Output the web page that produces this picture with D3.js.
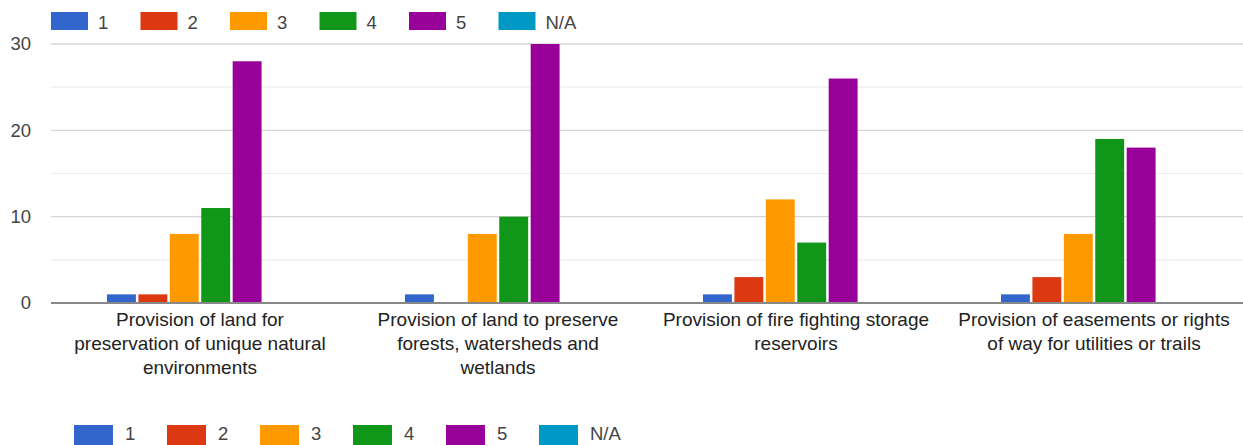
<!DOCTYPE html>
<html>
<head>
<meta charset="utf-8">
<script src="https://cdn.jsdelivr.net/npm/d3@7"></script>
<style>
  body { margin: 0; background: #fff; }
  svg { display: block; font-family: "Liberation Sans", Arial, sans-serif; }
</style>
</head>
<body>
<script>
// data
var categories = [
  ["Provision of land for", "preservation of unique natural", "environments"],
  ["Provision of land to preserve", "forests, watersheds and", "wetlands"],
  ["Provision of fire fighting storage", "reservoirs"],
  ["Provision of easements or rights", "of way for utilities or trails"]
];
var series = ["1", "2", "3", "4", "5", "N/A"];
var colors = ["#3366cc", "#dc3912", "#ff9900", "#109618", "#990099", "#0099c6"];
var s1 = [1, 1, 1, 1];
var s2 = [1, 0, 3, 3];
var s3 = [8, 8, 12, 8];
var s4 = [11, 10, 7, 19];
var s5 = [28, 30, 26, 18];
var sNA = [0, 0, 0, 0];
var yTicks = [0, 10, 20, 30];
var yMinor = [5, 15, 25];

var values = [s1, s2, s3, s4, s5, sNA];

var width = 1243, height = 445;
var svg = d3.select("body").append("svg")
    .attr("width", width).attr("height", height);

var x0 = d3.scaleBand().domain(d3.range(categories.length)).range([51, 1243]);
var x1 = d3.scaleBand().domain(d3.range(series.length))
    .range([56, x0.bandwidth() - 56]).paddingInner(0.08);
var y = d3.scaleLinear().domain([0, 30]).range([303, 44]);

// minor gridlines
svg.selectAll(".minor").data(yMinor).enter().append("line")
    .attr("x1", 51).attr("x2", width)
    .attr("y1", function(d) { return y(d); }).attr("y2", function(d) { return y(d); })
    .attr("stroke", "#ececec").attr("stroke-width", 1.2);

// major gridlines
svg.selectAll(".major").data(yTicks.slice(1)).enter().append("line")
    .attr("x1", 51).attr("x2", width)
    .attr("y1", function(d) { return y(d); }).attr("y2", function(d) { return y(d); })
    .attr("stroke", "#d6d6d6").attr("stroke-width", 1.4);

// y axis labels
var yAxis = d3.axisLeft(y).tickValues(yTicks).tickSize(0).tickPadding(0);
var ya = svg.append("g").attr("transform", "translate(31,0)").call(yAxis);
ya.select(".domain").remove();
ya.selectAll("text").attr("font-size", 18.5).attr("fill", "#444")
    .attr("font-family", "Liberation Sans, Arial, sans-serif");

// bars
var groups = svg.selectAll(".grp").data(categories).enter().append("g")
    .attr("transform", function(d, i) { return "translate(" + x0(i) + ",0)"; });

groups.selectAll("rect").data(function(d, i) {
    return series.map(function(s, j) { return {j: j, v: values[j][i]}; });
  }).enter().append("rect")
    .filter(function(d) { return d.v > 0; })
    .attr("x", function(d) { return x1(d.j); })
    .attr("width", x1.bandwidth())
    .attr("y", function(d) { return y(d.v); })
    .attr("height", function(d) { return y(0) - y(d.v); })
    .attr("fill", function(d) { return colors[d.j]; });

// baseline
svg.append("line").attr("x1", 51).attr("x2", width)
    .attr("y1", y(0)).attr("y2", y(0))
    .attr("stroke", "#888").attr("stroke-width", 1.8);

// category labels
groups.each(function(lines, i) {
  var t = d3.select(this).append("text")
      .attr("text-anchor", "middle")
      .attr("font-size", 19).attr("fill", "#222");
  t.selectAll("tspan").data(lines).enter().append("tspan")
      .attr("x", x0.bandwidth() / 2)
      .attr("y", function(d, k) { return 326 + k * 24; })
      .text(function(d) { return d; });
});

// legends
function legend(x, y0, step, sw, sh, gap, base) {
  var g = svg.append("g");
  var item = g.selectAll("g").data(series).enter().append("g")
      .attr("transform", function(d, i) { return "translate(" + (x + i * step) + ",0)"; });
  item.append("rect").attr("y", y0).attr("width", sw).attr("height", sh)
      .attr("fill", function(d, i) { return colors[i]; });
  item.append("text").attr("x", sw + gap).attr("y", base)
      .attr("font-size", 18.5).attr("fill", "#444")
      .text(function(d) { return d; });
}
legend(51, 12, 89.5, 37, 18, 10, 29);
legend(74, 425, 93, 39, 20, 12, 440);
</script>
</body>
</html>
